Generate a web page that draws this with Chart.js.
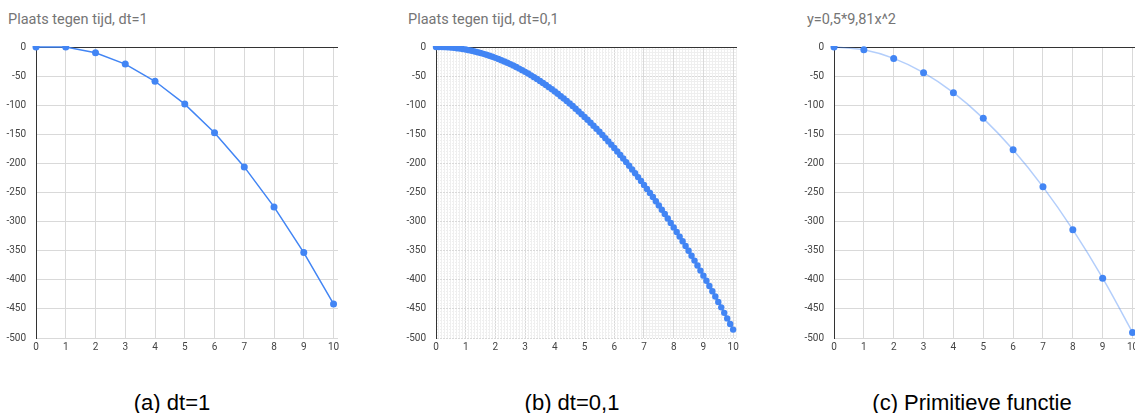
<!DOCTYPE html>
<html>
<head>
<meta charset="utf-8">
<script src="https://cdn.jsdelivr.net/npm/chart.js@4.4.0/dist/chart.umd.min.js"></script>
<style>
  html, body { margin: 0; padding: 0; background: #fff; }
  body { width: 1135px; height: 413px; position: relative; overflow: hidden; }
  .box { position: absolute; }
  .title { position: absolute; font-family: Roboto, sans-serif; font-size: 14.5px; line-height: 16px; color: #757575; white-space: nowrap; }
  .caption { position: absolute; font-family: "Liberation Sans", Arial, sans-serif; font-size: 22px; line-height: 26px; color: #000; white-space: nowrap; transform: translateX(-50%); }
</style>
</head>
<body>
<div class="title" style="left:8px; top:12px;">Plaats tegen tijd, dt=1</div>
<div class="title" style="left:408px; top:12px;">Plaats tegen tijd, dt=0,1</div>
<div class="title" style="left:807px; top:12px;">y=0,5*9,81x^2</div>

<div class="box" style="left:0px; top:31px; width:346px; height:327px;"><canvas id="chartA"></canvas></div>
<div class="box" style="left:400px; top:31px; width:345px; height:327px;"><canvas id="chartB"></canvas></div>
<div class="box" style="left:798px; top:31px; width:350px; height:327px;"><canvas id="chartC"></canvas></div>

<div class="caption" style="left:172px; top:390px;">(a) dt=1</div>
<div class="caption" style="left:572px; top:390px;">(b) dt=0,1</div>
<div class="caption" style="left:972px; top:390px;">(c) Primitieve functie</div>

<script>
// (a) Euler, dt = 1
const timeA = [0, 1, 2, 3, 4, 5, 6, 7, 8, 9, 10];
const posA = [0, 0, -9.8, -29.4, -58.9, -98.1, -147.2, -206.0, -274.7, -353.2, -441.5];

// (b) Euler, dt = 0,1
const timeB = [
    0.0, 0.1, 0.2, 0.3, 0.4, 0.5, 0.6, 0.7, 0.8, 0.9,
    1.0, 1.1, 1.2, 1.3, 1.4, 1.5, 1.6, 1.7, 1.8, 1.9,
    2.0, 2.1, 2.2, 2.3, 2.4, 2.5, 2.6, 2.7, 2.8, 2.9,
    3.0, 3.1, 3.2, 3.3, 3.4, 3.5, 3.6, 3.7, 3.8, 3.9,
    4.0, 4.1, 4.2, 4.3, 4.4, 4.5, 4.6, 4.7, 4.8, 4.9,
    5.0, 5.1, 5.2, 5.3, 5.4, 5.5, 5.6, 5.7, 5.8, 5.9,
    6.0, 6.1, 6.2, 6.3, 6.4, 6.5, 6.6, 6.7, 6.8, 6.9,
    7.0, 7.1, 7.2, 7.3, 7.4, 7.5, 7.6, 7.7, 7.8, 7.9,
    8.0, 8.1, 8.2, 8.3, 8.4, 8.5, 8.6, 8.7, 8.8, 8.9,
    9.0, 9.1, 9.2, 9.3, 9.4, 9.5, 9.6, 9.7, 9.8, 9.9,
    10.0
];
const posB = [
    0, 0, -0.1, -0.3, -0.6, -1.0, -1.5, -2.1, -2.7, -3.5,
    -4.4, -5.4, -6.5, -7.7, -8.9, -10.3, -11.8, -13.3, -15.0, -16.8,
    -18.6, -20.6, -22.7, -24.8, -27.1, -29.4, -31.9, -34.4, -37.1, -39.8,
    -42.7, -45.6, -48.7, -51.8, -55.0, -58.4, -61.8, -65.3, -69.0, -72.7,
    -76.5, -80.4, -84.5, -88.6, -92.8, -97.1, -101.5, -106.0, -110.7, -115.4,
    -120.2, -125.1, -130.1, -135.2, -140.4, -145.7, -151.1, -156.6, -162.2, -167.8,
    -173.6, -179.5, -185.5, -191.6, -197.8, -204.0, -210.4, -216.9, -223.5, -230.1,
    -236.9, -243.8, -250.7, -257.8, -265.0, -272.2, -279.6, -287.0, -294.6, -302.2,
    -310.0, -317.8, -325.8, -333.8, -342.0, -350.2, -358.6, -367.0, -375.5, -384.2,
    -392.9, -401.7, -410.6, -419.7, -428.8, -438.0, -447.3, -456.8, -466.3, -475.9,
    -485.6
];

// (c) primitive function
const timeC = [0, 1, 2, 3, 4, 5, 6, 7, 8, 9, 10];
const posC = [0, -4.9, -19.6, -44.1, -78.5, -122.6, -176.6, -240.3, -313.9, -397.3, -490.5];

const yMin = -500;
const yMax = 0;

const BLUE = '#4285f4';
const GRID = '#d9d9d9';
const MINOR = '#efefef';
const AXIS = '#333333';

Chart.defaults.font.family = 'Roboto, sans-serif';
Chart.defaults.font.size = 10;
Chart.defaults.color = '#444';

function isWhole(v, step) {
    const r = v / step;
    return Math.abs(r - Math.round(r)) < 1e-6;
}

function toPoints(xs, ys) {
    return xs.map((x, i) => ({ x: x, y: ys[i] }));
}

// Sheets only cuts the markers off at the top edge
const CLIP = { left: 5, top: 1, right: 5, bottom: 5 };

// Draws the y=0 baseline on top of the grid (but under the data), like Sheets does
const zeroLine = {
    id: 'zeroLine',
    beforeDatasetsDraw(chart) {
        const { ctx, chartArea, scales } = chart;
        const y = Math.round(scales.y.getPixelForValue(0)) + 0.5;
        ctx.save();
        ctx.strokeStyle = AXIS;
        ctx.lineWidth = 1;
        ctx.beginPath();
        ctx.moveTo(chartArea.left, y);
        ctx.lineTo(chartArea.right, y);
        ctx.stroke();
        ctx.restore();
    }
};

/**
 * Builds the options for one panel. minor = true gives the fine grid of panel (b).
 */
function panelOptions(xMax, minor) {
    const xStep = minor ? 0.1 : 1;
    const yStep = minor ? 5 : 50;
    return {
        responsive: true,
        maintainAspectRatio: false,
        animation: false,
        layout: { padding: { top: 10, right: 8, bottom: 0, left: 0 } },
        plugins: { legend: { display: false }, tooltip: { enabled: false } },
        scales: {
            x: {
                type: 'linear',
                min: 0,
                max: xMax,
                afterFit: (s) => { s.height = 20; },
                ticks: {
                    stepSize: xStep,
                    autoSkip: false,
                    includeBounds: false,
                    maxRotation: 0,
                    padding: 3,
                    callback: (v) => isWhole(v, 1) ? String(Math.round(v)) : ''
                },
                grid: {
                    drawTicks: false,
                    color: (c) => isWhole(c.tick.value, 1) ? GRID : MINOR
                },
                border: { display: false }
            },
            y: {
                type: 'linear',
                min: yMin,
                max: yMax,
                afterFit: (s) => { s.width = 36; },
                ticks: {
                    stepSize: yStep,
                    autoSkip: false,
                    padding: 10,
                    callback: (v) => isWhole(v, 50) ? String(Math.round(v)) : ''
                },
                grid: {
                    drawTicks: false,
                    color: (c) => isWhole(c.tick.value, 50) ? GRID : MINOR
                },
                border: { display: true, color: AXIS, width: 1, dash: minor ? [2, 1] : [] }
            }
        }
    };
}

new Chart(document.getElementById('chartA'), {
    type: 'line',
    data: {
        datasets: [{
            data: toPoints(timeA, posA),
            borderColor: BLUE,
            borderWidth: 1.5,
            pointBackgroundColor: BLUE,
            pointBorderWidth: 0,
            pointRadius: 3.5,
            tension: 0,
            clip: CLIP
        }]
    },
    options: panelOptions(10.15, false),
    plugins: [zeroLine]
});

new Chart(document.getElementById('chartB'), {
    type: 'line',
    data: {
        datasets: [{
            data: toPoints(timeB, posB),
            borderColor: BLUE,
            borderWidth: 2,
            pointBackgroundColor: BLUE,
            pointBorderWidth: 0,
            pointRadius: 3.2,
            tension: 0,
            clip: CLIP
        }]
    },
    options: panelOptions(10.13, true),
    plugins: [zeroLine]
});

new Chart(document.getElementById('chartC'), {
    type: 'line',
    data: {
        datasets: [{
            data: toPoints(timeC, posC),
            borderColor: 'rgba(66, 133, 244, 0.4)',
            borderWidth: 1.5,
            pointBackgroundColor: BLUE,
            pointBorderWidth: 0,
            pointRadius: 3.5,
            cubicInterpolationMode: 'monotone',
            clip: CLIP
        }]
    },
    options: panelOptions(10.25, false),
    plugins: [zeroLine]
});
</script>
</body>
</html>
